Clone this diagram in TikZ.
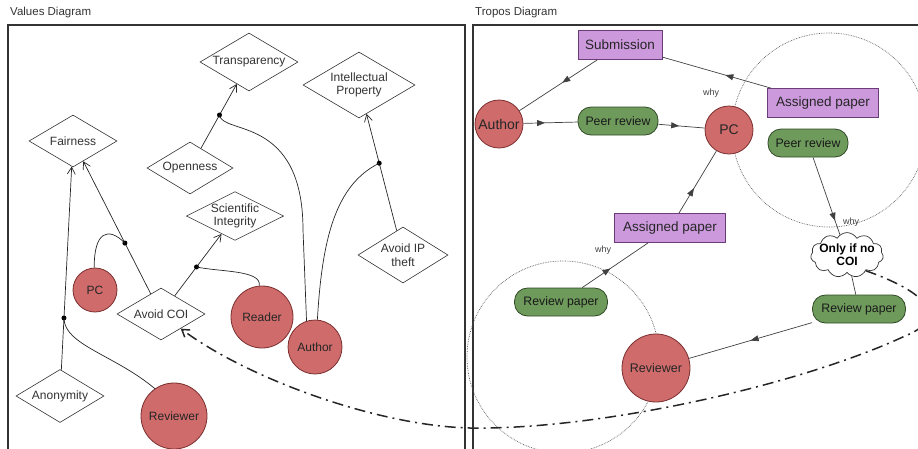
\documentclass[tikz,border=0pt]{standalone}
\usepackage{fontspec}
\setmainfont{Liberation Sans}
\usetikzlibrary{shapes.geometric,shapes.symbols,arrows.meta,decorations.markings,calc}
\definecolor{actorred}{HTML}{CF6B6B}
\definecolor{actoredge}{HTML}{7A2E2E}
\definecolor{respurple}{HTML}{CC99DD}
\definecolor{resedge}{HTML}{6A3C78}
\definecolor{goalgreen}{HTML}{6E9A5C}
\definecolor{goaledge}{HTML}{2F4A25}
\definecolor{framegray}{HTML}{333333}
\begin{document}
\begin{tikzpicture}[x=1pt,y=-1pt,
  valnode/.style={diamond, draw=black!80, line width=0.6pt, fill=white, aspect=2, inner sep=0pt, align=center, font=\fontsize{12}{13.5}\selectfont, text=black!80},
  actor/.style={circle, draw=actoredge, line width=0.8pt, fill=actorred, inner sep=0pt, text=black!85, font=\fontsize{12}{14}\selectfont},
  resource/.style={rectangle, draw=resedge, line width=0.8pt, fill=respurple, minimum height=29pt, inner sep=0pt, font=\fontsize{13.5}{15}\selectfont, text=black!85},
  goal/.style={rectangle, rounded corners=13pt, draw=goaledge, line width=0.8pt, fill=goalgreen, minimum height=28pt, inner sep=0pt, font=\fontsize{12.3}{14}\selectfont, text=black!90},
  softgoal/.style={cloud, draw=black!80, line width=0.7pt, fill=white, cloud puffs=11, cloud puff arc=120, aspect=2, inner sep=-3pt, align=center, font=\bfseries\fontsize{12}{13}\selectfont},
  whylabel/.style={font=\fontsize{9}{10}\selectfont, text=black!75, inner sep=0pt},
  paneltitle/.style={font=\fontsize{11.5}{14}\selectfont, text=black!80, inner sep=0pt},
  frame/.style={draw=framegray, line width=1.4pt},
  vline/.style={draw=black!85, line width=0.7pt},
  valarrow/.style={vline, -{Straight Barb[length=7pt,width=8pt]}},
  tline/.style={draw=black!75, line width=0.7pt},
  tarrow/.style={tline, postaction={decorate}, decoration={markings, mark=at position #1 with {\arrow{Triangle[length=8pt,width=6pt]}}}},
  tarrow/.default=0.5,
  dashdot/.style={draw=black!85, line width=1.5pt, dash pattern=on 11pt off 5pt on 2pt off 5pt},
  scopecircle/.style={draw=black!65, line width=0.7pt, densely dotted}
]
\useasboundingbox (0,0) rectangle (918,448);
\clip (0,0) rectangle (918,448);

% panels
\draw[frame] (8,25) rectangle (465,470);
\draw[frame] (473,25) rectangle (940,470);
\node[paneltitle, anchor=west] (vtitle) at (10,13) {Values Diagram};
\node[paneltitle, anchor=west] (ttitle) at (475,13) {Tropos Diagram};

% ---------- Values diagram ----------
\node[valnode, minimum width=98pt, minimum height=58pt] (transp) at (249,62) {Transparency};
\node[valnode, minimum width=112pt, minimum height=66pt] (ip) at (359,85) {Intellectual\\Property};
\node[valnode, minimum width=88pt, minimum height=52pt] (fair) at (73,141) {Fairness};
\node[valnode, minimum width=86pt, minimum height=52pt] (open) at (190,168) {Openness};
\node[valnode, minimum width=90pt, minimum height=47pt] (sci) at (235,216) {Scientific\\Integrity};
\node[valnode, minimum width=88pt, minimum height=52pt] (coi) at (161,314) {Avoid COI};
\node[valnode, minimum width=90pt, minimum height=56pt] (iptheft) at (403,255) {Avoid IP\\theft};
\node[valnode, minimum width=88pt, minimum height=53pt] (anon) at (60,396) {Anonymity};

\node[actor, minimum size=44pt] (vpc) at (95,290) {PC};
\node[actor, minimum size=62pt] (vreader) at (262,317) {Reader};
\node[actor, minimum size=54pt] (vauthor) at (315,347) {Author};
\node[actor, minimum size=66pt] (vrev) at (174,416) {Reviewer};

\draw[valarrow] (anon) -- (fair);
\draw[valarrow] (coi) -- (fair);
\draw[valarrow] (coi) -- (sci);
\draw[valarrow] (open) -- (transp);
\draw[valarrow] (iptheft) -- (ip);

\coordinate (dA) at ($(anon)!0.306!(fair)$);
\coordinate (dB) at ($(coi)!0.41!(fair)$);
\coordinate (dC) at ($(coi)!0.48!(sci)$);
\coordinate (dD) at ($(open)!0.5!(transp)$);
\coordinate (dE) at ($(iptheft)!0.54!(ip)$);
\foreach \d in {dA,dB,dC,dD,dE} \fill[black] (\d) circle (2.5pt);

\draw[vline] (vrev.125) .. controls (115,355) and (64,345) .. (dA);
\draw[vline] (vpc.92) .. controls (94,232) and (108,226) .. (dB);
\draw[vline] (vreader.95) .. controls (262,270) and (220,272) .. (dC);
\draw[vline] (vauthor.108) -- (303,230) .. controls (303,115) and (222,135) .. (dD);
\draw[vline] (vauthor.85) .. controls (322,240) and (335,185) .. (dE);

% ---------- Tropos diagram ----------
\draw[scopecircle] (829,130) circle (97pt);
\draw[scopecircle] (563,357) circle (96pt);

\node[resource, minimum width=84pt] (sub) at (620,45) {Submission};
\node[resource, minimum width=111pt] (ap1) at (823,103) {Assigned paper};
\node[actor, minimum size=48pt, font=\fontsize{14}{16}\selectfont] (tauthor) at (499,124) {Author};
\node[goal, minimum width=80pt] (pr1) at (618,121) {Peer review};
\node[actor, minimum size=48pt, font=\fontsize{14}{16}\selectfont] (tpc) at (729,130) {PC};
\node[goal, minimum width=80pt] (pr2) at (808,143) {Peer review};
\node[resource, minimum width=111pt] (ap2) at (670,228) {Assigned paper};
\node[goal, minimum width=93pt] (rp1) at (561,302) {Review paper};
\node[actor, minimum size=68pt, font=\fontsize{12.5}{14}\selectfont] (trev) at (656,368) {Reviewer};
\node[softgoal] (cloud) at (847,255) {Only if no\\COI};
\node[goal, minimum width=93pt] (rp2) at (859,309) {Review paper};

\node[whylabel] (why1) at (711,93) {why};
\node[whylabel] (why2) at (603,250) {why};
\node[whylabel] (why3) at (851,222) {why};

\draw[tarrow=0.45] (sub) -- (tauthor);
\draw[tarrow=0.42] (ap1) -- (sub);
\draw[tarrow=0.4] (tauthor) -- (pr1);
\draw[tarrow=0.45] (pr1) -- (tpc);
\draw[tarrow=0.4] (ap2) -- (tpc);
\draw[tarrow=0.43] (rp1) -- (ap2);
\draw[tarrow=0.82] (pr2) -- (cloud);
\draw[tline] (cloud) -- (rp2);
\draw[tarrow=0.5] (rp2) -- (trev);

% cross-diagram link
\draw[dashdot, -{Straight Barb[length=7pt,width=9pt]}] (cloud.-40) .. controls (935,295) and (945,320) .. (905,336)
  .. controls (800,385) and (600,430) .. (470,428)
  .. controls (380,426) and (250,380) .. (coi);
\end{tikzpicture}
\end{document}
